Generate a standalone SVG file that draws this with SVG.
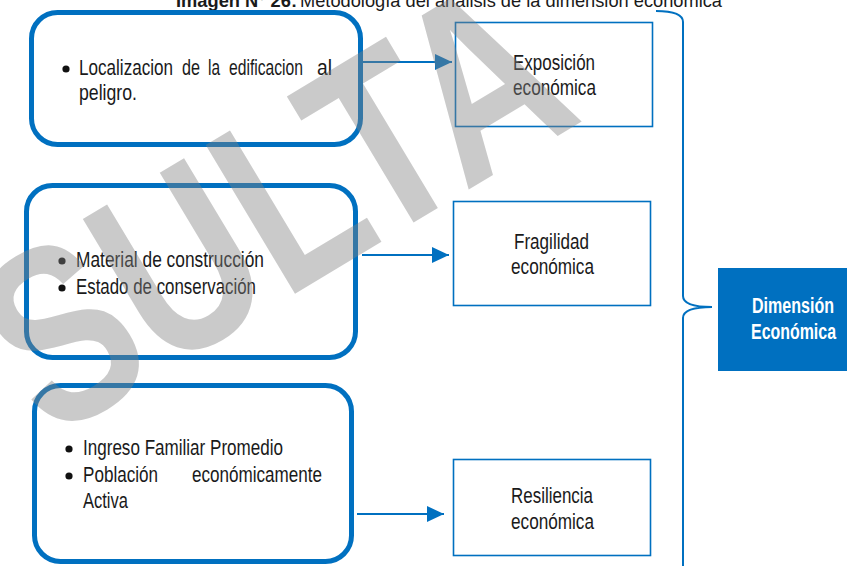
<svg xmlns="http://www.w3.org/2000/svg" width="847" height="566" viewBox="0 0 847 566">
<style>
.rbox{fill:none;stroke:#0070C0;stroke-width:5}
.sbox{fill:#fff;stroke:#0070C0;stroke-width:1.6}
.t{font-family:"Liberation Sans",Arial,sans-serif;font-size:22px;fill:#1a1a1a}
.w{fill:#fff;font-weight:bold}
.conn{stroke:#0070C0;stroke-width:2;fill:none}
.wm{font-family:"Liberation Sans",Arial,sans-serif;font-weight:bold;font-size:252px;fill:#808080;fill-opacity:0.42}
</style>
<defs>
<marker id="ah" markerUnits="userSpaceOnUse" markerWidth="18" markerHeight="16" refX="17" refY="8" orient="auto">
<path d="M0,0 L17,8 L0,16 z" fill="#0070C0"/>
</marker>
</defs>
<rect width="847" height="566" fill="#fff"/>

<g id="title">
<text x="176" y="7" class="t" style="font-size:19px" font-weight="bold" fill="#1F3864" textLength="121" lengthAdjust="spacingAndGlyphs">Imagen N° 26:</text>
<text x="300" y="7" class="t" style="font-size:19px" textLength="422" lengthAdjust="spacingAndGlyphs">Metodología del análisis de la dimensión económica</text>
</g>

<g id="connectors">
<line class="conn" x1="362" y1="62" x2="452" y2="62" marker-end="url(#ah)"/>
<line class="conn" x1="362" y1="255" x2="449" y2="255" marker-end="url(#ah)"/>
<line class="conn" x1="357" y1="514" x2="444" y2="514" marker-end="url(#ah)"/>
<path class="conn" d="M656,11 Q683,11 683,22 L683,296 Q683,307 712,307 Q683,307 683,318 L683,566"/>
</g>

<g id="box-localizacion">
<rect class="rbox" x="31.5" y="12.5" width="329" height="132" rx="26"/>
<circle cx="66" cy="69" r="3.6" fill="#111"/>
<text class="t" x="79" y="75" textLength="94" lengthAdjust="spacingAndGlyphs">Localizacion</text>
<text class="t" x="182" y="75" textLength="18" lengthAdjust="spacingAndGlyphs">de</text>
<text class="t" x="208" y="75" textLength="12" lengthAdjust="spacingAndGlyphs">la</text>
<text class="t" x="229" y="75" textLength="74" lengthAdjust="spacingAndGlyphs">edificacion</text>
<text class="t" x="317" y="75" textLength="15" lengthAdjust="spacingAndGlyphs">al</text>
<text class="t" x="79" y="100" textLength="58" lengthAdjust="spacingAndGlyphs">peligro.</text>
</g>

<g id="box-material">
<rect class="rbox" x="26.5" y="185.5" width="329" height="172" rx="26"/>
<circle cx="62" cy="261" r="3.6" fill="#111"/>
<circle cx="62" cy="288" r="3.6" fill="#111"/>
<text class="t" x="76" y="267" textLength="188" lengthAdjust="spacingAndGlyphs">Material de construcción</text>
<text class="t" x="76" y="294" textLength="180" lengthAdjust="spacingAndGlyphs">Estado de conservación</text>
</g>

<g id="box-ingreso">
<rect class="rbox" x="34.5" y="385.5" width="317" height="176" rx="26"/>
<circle cx="69" cy="449" r="3.6" fill="#111"/>
<circle cx="69" cy="476" r="3.6" fill="#111"/>
<text class="t" x="83" y="455" textLength="200" lengthAdjust="spacingAndGlyphs">Ingreso Familiar Promedio</text>
<text class="t" x="83" y="482" textLength="75" lengthAdjust="spacingAndGlyphs">Población</text>
<text class="t" x="192" y="482" textLength="130" lengthAdjust="spacingAndGlyphs">económicamente</text>
<text class="t" x="83" y="508" textLength="45" lengthAdjust="spacingAndGlyphs">Activa</text>
</g>

<g id="box-exposicion">
<rect class="sbox" x="455.5" y="22.5" width="197" height="104"/>
<text class="t" x="513" y="70" textLength="82" lengthAdjust="spacingAndGlyphs">Exposición</text>
<text class="t" x="513" y="95" textLength="83" lengthAdjust="spacingAndGlyphs">económica</text>
</g>

<g id="box-fragilidad">
<rect class="sbox" x="453.5" y="201.5" width="197" height="104"/>
<text class="t" x="514" y="249" textLength="75" lengthAdjust="spacingAndGlyphs">Fragilidad</text>
<text class="t" x="511" y="274" textLength="83" lengthAdjust="spacingAndGlyphs">económica</text>
</g>

<g id="box-resiliencia">
<rect class="sbox" x="453.5" y="459.5" width="197" height="96"/>
<text class="t" x="511" y="503" textLength="82" lengthAdjust="spacingAndGlyphs">Resiliencia</text>
<text class="t" x="511" y="529" textLength="83" lengthAdjust="spacingAndGlyphs">económica</text>
</g>

<g id="box-dimension">
<rect x="718" y="268" width="129" height="103" fill="#0070C0"/>
<text class="t w" x="752" y="313" textLength="82" lengthAdjust="spacingAndGlyphs">Dimensión</text>
<text class="t w" x="751" y="339" textLength="85" lengthAdjust="spacingAndGlyphs">Económica</text>
</g>

<g id="watermark">
<text class="wm" text-anchor="middle" transform="translate(318,280) rotate(-31) scale(0.78,1)">SULTA</text>
</g>
</svg>
